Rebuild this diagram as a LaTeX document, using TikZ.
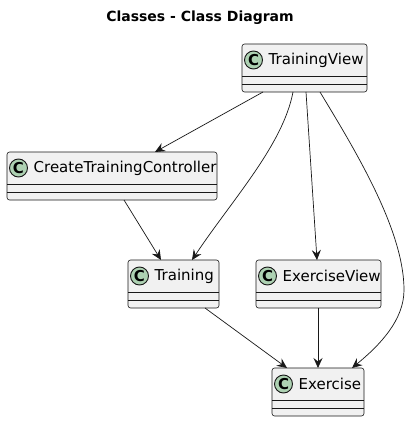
\documentclass[tikz,border=0pt]{standalone}
\usepackage{fontspec}
\setmainfont{DejaVu Sans}
\usetikzlibrary{arrows.meta,calc}
\definecolor{boxfill}{HTML}{F1F1F1}
\definecolor{boxline}{HTML}{181818}
\definecolor{spotfill}{HTML}{ADD1B2}
\tikzset{
  classbox/.style={draw=boxline, fill=boxfill, line width=0.6pt, rounded corners=2.5pt, inner sep=0pt, outer sep=0pt, minimum height=48pt},
  sepline/.style={draw=boxline, line width=0.5pt},
  spot/.style={circle, draw=boxline, fill=spotfill, line width=0.9pt, minimum size=18pt, inner sep=0pt, font=\fontsize{15}{15}\selectfont\bfseries},
  classname/.style={inner sep=0pt, font=\fontsize{15}{15}\selectfont},
  titletext/.style={inner sep=0pt, font=\fontsize{14}{14}\selectfont\bfseries},
  link/.style={draw=boxline, line width=0.7pt, -{Stealth[length=10pt,width=9pt,inset=3.5pt]}}
}
\newcommand{\umlclass}[5]{%
  \node[classbox, minimum width=#4pt, anchor=north west] (#1) at (#2,#3) {};
  \draw[sepline] ([yshift=-32pt]#1.north west) -- ([yshift=-32pt]#1.north east);
  \draw[sepline] ([yshift=-40pt]#1.north west) -- ([yshift=-40pt]#1.north east);
  \node[spot] (#1c) at ([xshift=11.5pt,yshift=-16pt]#1.north west) {C};
  \node[classname, anchor=west] (#1t) at ([xshift=26.5pt,yshift=-16pt]#1.north west) {#5};
}
\begin{document}
\begin{tikzpicture}[x=1pt,y=-1pt]
\useasboundingbox (0,0) rectangle (413,422);
\node[titletext] (title) at (200,18) {Classes - Class Diagram};
\umlclass{TV}{242}{44}{125}{TrainingView}
\umlclass{CTC}{7}{152}{210}{CreateTrainingController}
\umlclass{TR}{128}{260}{91}{Training}
\umlclass{EV}{256}{260}{125}{ExerciseView}
\umlclass{EX}{272}{368}{92}{Exercise}
\draw[link] ([xshift=21pt]TV.south west) -- ([xshift=148pt]CTC.north west);
\draw[link] ([xshift=51pt]TV.south west) .. controls (283,145) and (232,200) .. ([xshift=64pt]TR.north west);
\draw[link] ([xshift=64pt]TV.south west) -- ([xshift=61pt]EV.north west);
\draw[link] ([xshift=78pt]TV.south west) .. controls (355,150) and (404,230) .. (404,290) .. controls (404,320) and (380,345) .. ([xshift=80pt]EX.north west);
\draw[link] ([xshift=117pt]CTC.south west) -- ([xshift=33pt]TR.north west);
\draw[link] ([xshift=77pt]TR.south west) -- ([xshift=15pt]EX.north west);
\draw[link] ([xshift=62pt]EV.south west) -- ([xshift=46pt]EX.north west);
\end{tikzpicture}
\end{document}
